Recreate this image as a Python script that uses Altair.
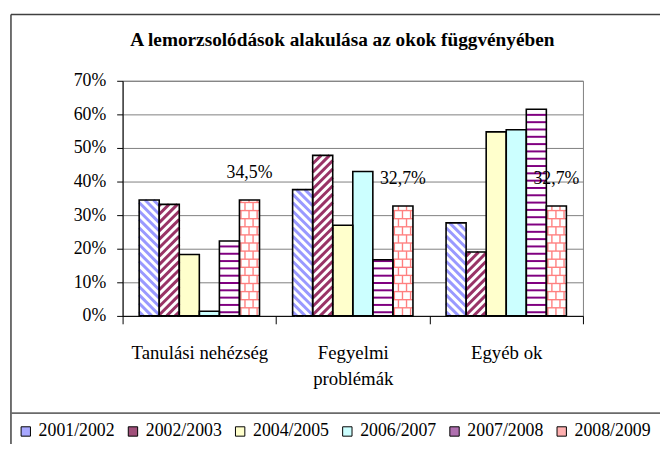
import altair as alt
import pandas as pd

# ---------------- data ----------------
title_text = "A lemorzsolódások alakulása az okok függvényében"
categories = ["Tanulási nehézség", "Fegyelmi problémák", "Egyéb ok"]
category_lines = [["Tanulási nehézség"], ["Fegyelmi", "problémák"], ["Egyéb ok"]]
series = ["2001/2002", "2002/2003", "2004/2005", "2006/2007", "2007/2008", "2008/2009"]
v2001_2002 = [34.5, 37.6, 27.7]
v2002_2003 = [33.2, 47.8, 19.0]
v2004_2005 = [18.3, 27.0, 54.8]
v2006_2007 = [1.4, 43.0, 55.4]
v2007_2008 = [22.3, 16.7, 61.5]
v2008_2009 = [34.5, 32.7, 32.7]
label_texts = ["34,5%", "32,7%", "32,7%"]
y_ticks = [0, 10, 20, 30, 40, 50, 60, 70]

values_by_series = [v2001_2002, v2002_2003, v2004_2005, v2006_2007, v2007_2008, v2008_2009]

# ---------------- styles ----------------
FONT = "'Liberation Serif', 'Times New Roman', 'DejaVu Serif', serif"
base_fill = ["#FFFFFF", "#FFFFFF", "#FFFFCC", "#CCFFFF", "#FFFFFF", "#FFFFFF"]
legend_fill = ["#A8A8FF", "#A0507A", "#FFFFCC", "#CCFFFF", "#B070B0", "#FFB0B0"]
patterns = [
    ("down", "#9999FF", 3.0, 8.5),
    ("up", "#993366", 3.0, 8.5),
    None,
    None,
    ("hline", "#800080", 2.0, 7.4),
    ("brick", "#FF8080", 1.4, 8.2),
]

W_PLOT, H_PLOT, YMAX = 466, 238, 70
PXU = W_PLOT / 3.0          # pixels per x unit
PYU = H_PLOT / YMAX         # pixels per percent
GROUP_PAD = 0.108
BAR_W = 0.1307

# ---------------- bars table ----------------
rows = []
for si, s in enumerate(series):
    for gi, c in enumerate(categories):
        x0 = gi + GROUP_PAD + si * BAR_W
        rows.append(dict(series=s, cat=c, value=values_by_series[si][gi],
                         x0=x0, x1=x0 + BAR_W, xc=x0 + BAR_W / 2,
                         base=base_fill[si]))
bars = pd.DataFrame(rows)


def segs_for(kind, Wp, Hp, P):
    out = []
    if kind == "down":           # y = c - x
        c = P / 2
        while c < Wp + Hp:
            xlo, xhi = max(0.0, c - Hp), min(Wp, c)
            if xhi - xlo > 0.3:
                out.append((xlo, c - xlo, xhi, c - xhi))
            c += P
    elif kind == "up":           # y = x + c
        c = -Wp + P / 2
        while c < Hp:
            xlo, xhi = max(0.0, -c), min(Wp, Hp - c)
            if xhi - xlo > 0.3:
                out.append((xlo, xlo + c, xhi, xhi + c))
            c += P
    elif kind == "hline":
        y = P / 2
        while y < Hp - 1:
            out.append((0.0, y, Wp, y))
            y += P
    elif kind == "brick":
        bw = 8.2
        k = 0
        while k * P < Hp:
            y = k * P
            if k > 0:
                out.append((0.0, y, Wp, y))
            ytop = min((k + 1) * P, Hp)
            x = 1.5 + (bw / 2 if k % 2 else 0.0)
            while x < Wp - 0.8:
                out.append((x, y, x, ytop))
                x += bw
            k += 1
    return out


pattern_layers = []
x_scale = alt.Scale(domain=[0, 3], nice=False, zero=False)
y_scale = alt.Scale(domain=[0, YMAX], nice=False)

x_axis = alt.Axis(
    values=[0, 0.5, 1, 1.5, 2, 2.5, 3],
    labelExpr=" : ".join(
        f"datum.value == {gi + 0.5} ? {repr(lines) if len(lines) > 1 else repr(lines[0])}"
        for gi, lines in enumerate(category_lines)) + " : ''",
    tickOpacity={"condition": {"test": "datum.value % 1 != 0", "value": 0}, "value": 1},
    tickSize=8, tickColor="black", domainColor="black", domainWidth=1,
    labelFont=FONT, labelFontSize=19, labelColor="black", labelPadding=20,
    labelLineHeight=26, labelOverlap=False, labelFlush=False, labelBound=False,
    grid=False, title=None,
)
y_axis = alt.Axis(
    values=y_ticks, labelExpr="datum.value + '%'",
    tickSize=6, tickColor="black", domainColor="black", domainWidth=1,
    labelFont=FONT, labelFontSize=18, labelColor="black", labelPadding=11,
    grid=True, gridColor="#7f7f7f", gridWidth=1, title=None,
)

for si, s in enumerate(series):
    p = patterns[si]
    if p is None:
        continue
    kind, col, sw, P = p
    seg_rows = []
    for gi in range(3):
        x0 = gi + GROUP_PAD + si * BAR_W
        Wp = BAR_W * PXU
        Hp = values_by_series[si][gi] * PYU
        for (ax, ay, bx, by) in segs_for(kind, Wp, Hp, P):
            seg_rows.append(dict(x=x0 + ax / PXU, y=ay / PYU,
                                 x2=x0 + bx / PXU, y2=by / PYU))
    df = pd.DataFrame(seg_rows)
    pattern_layers.append(
        alt.Chart(df).mark_rule(color=col, strokeWidth=sw, strokeCap="butt").encode(
            x=alt.X("x:Q", scale=x_scale, axis=x_axis),
            x2="x2:Q",
            y=alt.Y("y:Q", scale=y_scale, axis=y_axis),
            y2="y2:Q",
        )
    )

base = alt.Chart(bars).mark_rect(strokeWidth=0).encode(
    x=alt.X("x0:Q", scale=x_scale, axis=x_axis),
    x2="x1:Q",
    y=alt.Y("value:Q", scale=y_scale, axis=y_axis),
    y2=alt.datum(0),
    fill=alt.Fill("base:N", scale=None),
)

outline = alt.Chart(bars).mark_rect(fillOpacity=0, stroke="black", strokeWidth=1.6).encode(
    x=alt.X("x0:Q", scale=x_scale, axis=x_axis),
    x2="x1:Q",
    y=alt.Y("value:Q", scale=y_scale, axis=y_axis),
    y2=alt.datum(0),
    color=alt.Color("series:N", scale=alt.Scale(domain=series, range=legend_fill),
                    legend=alt.Legend(orient="none", legendX=-107, legendY=346,
                                      direction="horizontal", columns=6, title=None,
                                      symbolType="square", symbolSize=90,
                                      symbolStrokeColor="black", symbolStrokeWidth=1,
                                      symbolOpacity=1,
                                      labelFont=FONT, labelFontSize=18, labelColor="black",
                                      labelOffset=4, columnPadding=8.5, padding=0)),
)

lab_df = pd.DataFrame(dict(
    xc=[gi + GROUP_PAD + 5 * BAR_W + BAR_W / 2 for gi in range(3)],
    value=v2008_2009, label=label_texts))
labels = alt.Chart(lab_df).mark_text(font=FONT, fontSize=18, color="black",
                                     baseline="middle", dy=-27).encode(
    x=alt.X("xc:Q", scale=x_scale, axis=x_axis),
    y=alt.Y("value:Q", scale=y_scale, axis=y_axis),
    text="label:N",
)

one = alt.Data(values=[{"k": 1}])
title_mark = alt.Chart(alt.Data(values=[{"t": title_text}])).mark_text(
    font=FONT, fontSize=19.5, fontWeight="bold", color="black",
    align="center", baseline="alphabetic").encode(
    x=alt.value(222.5), y=alt.value(-35.5), text="t:N")
border_top = alt.Chart(one).mark_rule(color="#404040", strokeWidth=1.5).encode(
    x=alt.value(-113), x2=alt.value(560), y=alt.value(-67))
border_left = alt.Chart(one).mark_rule(color="#404040", strokeWidth=1.5).encode(
    x=alt.value(-113), y=alt.value(-67), y2=alt.value(380))
legend_sep = alt.Chart(one).mark_rule(color="#6a6a6a", strokeWidth=1.8).encode(
    x=alt.value(-113), x2=alt.value(560), y=alt.value(336.5))

chart = alt.layer(base, *pattern_layers, outline, labels, title_mark,
                  border_top, border_left, legend_sep).properties(
    width=W_PLOT, height=H_PLOT,
    autosize=alt.AutoSizeParams(type="none"),
    padding={"left": 116, "top": 71, "right": 78, "bottom": 127},
).configure_view(stroke="#7f7f7f", strokeWidth=1)

chart.save("out.html", embed_options={"renderer": "svg", "actions": False})
